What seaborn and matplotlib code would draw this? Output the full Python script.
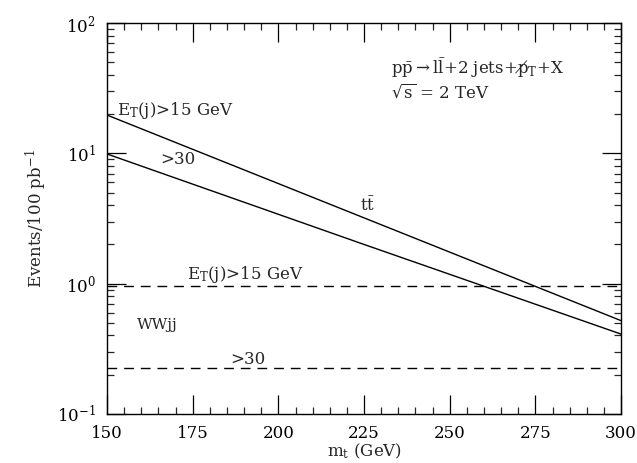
import numpy as np
import pandas as pd
import matplotlib
matplotlib.use("Agg")
import matplotlib.pyplot as plt
import seaborn as sns
from matplotlib.ticker import LogLocator, MultipleLocator, NullFormatter

# ---- data ----
mt = [150, 225, 300]
tt_15 = [19.7, 3.2, 0.52]
tt_30 = [9.9, 2.0, 0.41]
ww_mt = [150, 300]
ww_15 = [0.96, 0.96]
ww_30 = [0.225, 0.225]

x_ticks = [150, 175, 200, 225, 250, 275, 300]

sns.set_theme(style="ticks")
plt.rcParams['font.family'] = ['DejaVu Serif']
plt.rcParams['mathtext.fontset'] = 'dejavuserif'

fig = plt.figure(figsize=(6.37, 4.63), dpi=100)
ax = fig.add_axes([0.168, 0.106, 0.807, 0.844])

tt15_df = pd.DataFrame({"mt": mt, "ev": tt_15})
tt30_df = pd.DataFrame({"mt": mt, "ev": tt_30})
ww15_df = pd.DataFrame({"mt": ww_mt, "ev": ww_15})
ww30_df = pd.DataFrame({"mt": ww_mt, "ev": ww_30})

sns.lineplot(data=tt15_df, x="mt", y="ev", color="black", lw=1.0, ax=ax)
sns.lineplot(data=tt30_df, x="mt", y="ev", color="black", lw=1.0, ax=ax)
sns.lineplot(data=ww15_df, x="mt", y="ev", color="black", lw=1.0, ax=ax,
             dashes=False, linestyle=(0, (7, 5)))
sns.lineplot(data=ww30_df, x="mt", y="ev", color="black", lw=1.0, ax=ax,
             dashes=False, linestyle=(0, (7, 5)))

ax.set_yscale("log")
ax.set_xlim(150, 300)
ax.set_ylim(0.1, 100)
ax.set_xticks(x_ticks)
ax.set_xticklabels([str(v) for v in x_ticks])
ax.xaxis.set_minor_locator(MultipleLocator(5))
ax.yaxis.set_major_locator(LogLocator(base=10, numticks=10))
ax.yaxis.set_minor_locator(LogLocator(base=10, subs=np.arange(2, 10), numticks=20))
ax.yaxis.set_minor_formatter(NullFormatter())

ax.tick_params(which="major", direction="in", length=14, width=0.9,
               top=True, right=True, labelsize=12, pad=8, colors="black")
ax.tick_params(which="minor", direction="in", length=5, width=0.9,
               top=True, right=True)
for s in ax.spines.values():
    s.set_linewidth(1.0)
    s.set_color("black")

ax.set_xlabel(r"m$_\mathrm{t}$ (GeV)", fontsize=12, labelpad=0)
ax.set_ylabel(r"Events/100 pb$^{-1}$", fontsize=12, labelpad=6)

fs = 12
ax.text(153.0, 21.5, r"E$_\mathrm{T}$(j)>15 GeV", fontsize=fs, va="center", ha="left")
ax.text(165.5, 8.9, r">30", fontsize=fs, va="center", ha="left")
ax.text(223.8, 4.0, r"t$\bar{\mathrm{t}}$", fontsize=fs, va="center", ha="left")
ax.text(173.3, 1.18, r"E$_\mathrm{T}$(j)>15 GeV", fontsize=fs, va="center", ha="left")
ax.text(158.8, 0.48, "WWjj", fontsize=fs - 1, va="center", ha="left")
ax.text(185.9, 0.26, r">30", fontsize=fs, va="center", ha="left")

line1 = (r"p$\bar{\mathrm{p}}\rightarrow$l$\bar{\mathrm{l}}$+2 jets+p" + "\u0338"
         + r"$_\mathrm{T}$+X")
ax.text(232.9, 45, line1, fontsize=12, va="center", ha="left")
ax.text(232.9, 29.5, r"$\sqrt{\mathrm{s}}$ = 2 TeV", fontsize=12, va="center", ha="left")

fig.savefig("out.png", dpi=100, facecolor="white")
